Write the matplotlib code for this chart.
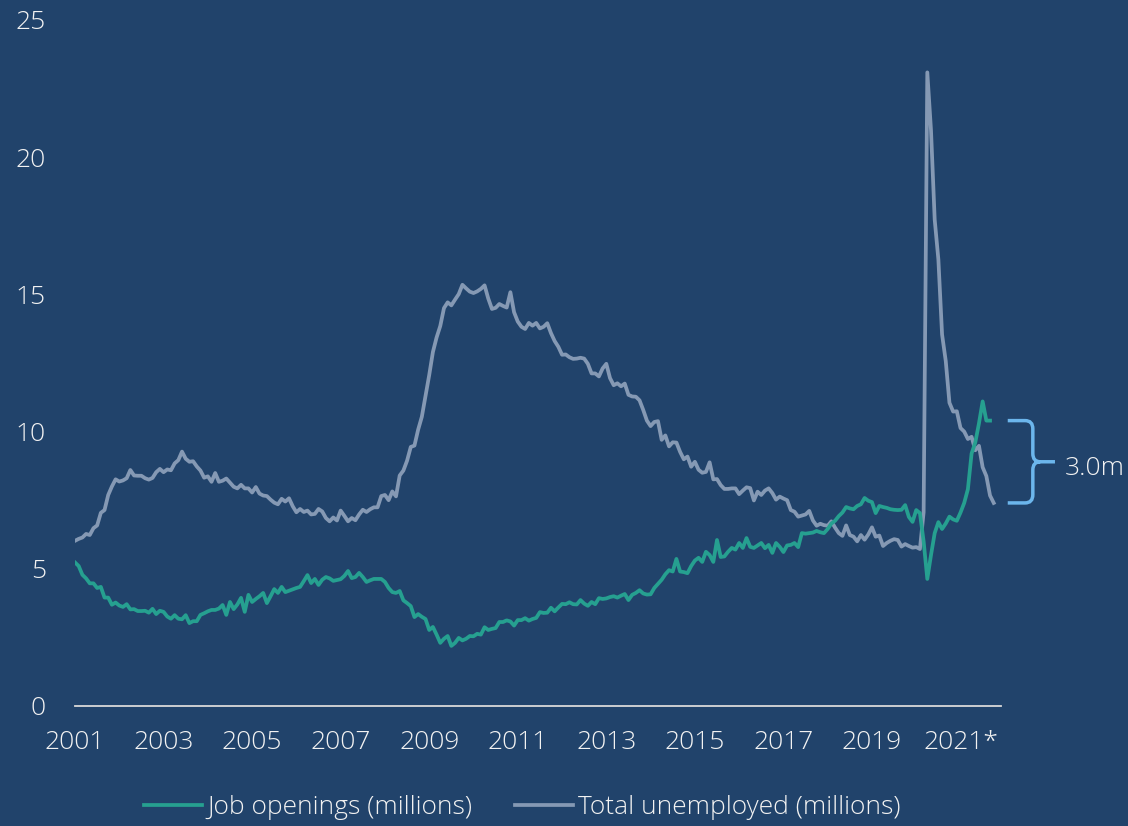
import matplotlib.pyplot as plt
from matplotlib.path import Path
from matplotlib.patches import PathPatch
import numpy as np

# monthly values, Jan 2001 onwards (millions)
job_openings = [
    5.23, 5.10, 4.78, 4.65, 4.47, 4.47, 4.30, 4.34, 3.95, 3.95, 3.69, 3.77,
    3.66, 3.61, 3.71, 3.52, 3.53, 3.46, 3.46, 3.47, 3.40, 3.54, 3.35, 3.47,
    3.43, 3.26, 3.18, 3.31, 3.18, 3.16, 3.31, 3.02, 3.09, 3.09, 3.32, 3.38,
    3.45, 3.50, 3.50, 3.55, 3.68, 3.32, 3.79, 3.53, 3.70, 3.94, 3.43, 4.05,
    3.79, 3.90, 4.00, 4.12, 3.75, 4.00, 4.26, 4.12, 4.34, 4.15, 4.20, 4.25,
    4.30, 4.34, 4.55, 4.77, 4.48, 4.63, 4.41, 4.60, 4.70, 4.65, 4.56, 4.59,
    4.62, 4.74, 4.92, 4.66, 4.70, 4.85, 4.70, 4.52, 4.58, 4.63, 4.63, 4.63,
    4.52, 4.30, 4.15, 4.12, 4.19, 3.85, 3.75, 3.64, 3.24, 3.35, 3.25, 3.17,
    2.77, 2.88, 2.60, 2.30, 2.45, 2.55, 2.19, 2.30, 2.48, 2.39, 2.45, 2.55,
    2.54, 2.63, 2.60, 2.87, 2.77, 2.81, 2.84, 3.06, 3.06, 3.12, 3.08, 2.93,
    3.13, 3.13, 3.20, 3.11, 3.17, 3.21, 3.42, 3.39, 3.40, 3.58, 3.45, 3.59,
    3.72, 3.71, 3.78, 3.71, 3.70, 3.86, 3.73, 3.65, 3.79, 3.71, 3.93, 3.90,
    3.92, 3.97, 4.00, 3.95, 4.02, 4.08, 3.86, 4.05, 4.12, 4.22, 4.10, 4.06,
    4.07, 4.30, 4.45, 4.60, 4.80, 4.95, 4.90, 5.36, 4.90, 4.88, 4.84, 5.10,
    5.30, 5.40, 5.25, 5.62, 5.50, 5.25, 6.05, 5.43, 5.45, 5.62, 5.76, 5.70,
    5.94, 5.76, 6.12, 5.80, 5.76, 5.85, 5.94, 5.75, 5.87, 5.58, 5.94, 5.80,
    5.61, 5.85, 5.87, 5.94, 5.79, 6.30, 6.28, 6.30, 6.32, 6.38, 6.33, 6.30,
    6.45, 6.65, 6.75, 6.92, 7.05, 7.25, 7.20, 7.17, 7.29, 7.35, 7.58, 7.48,
    7.43, 7.03, 7.29, 7.25, 7.22, 7.17, 7.15, 7.14, 7.15, 7.32, 6.89, 6.71,
    7.14, 7.03, 6.00, 4.63, 5.50, 6.30, 6.70, 6.45, 6.65, 6.90, 6.80, 6.75,
    7.05, 7.40, 7.90, 9.20, 9.60, 10.30, 11.10, 10.40, 10.40,
]

unemployed = [
    6.02, 6.09, 6.14, 6.27, 6.23, 6.48, 6.58, 7.04, 7.14, 7.69, 8.00, 8.26,
    8.18, 8.22, 8.30, 8.60, 8.40, 8.39, 8.39, 8.30, 8.25, 8.31, 8.52, 8.64,
    8.52, 8.62, 8.59, 8.84, 8.96, 9.27, 9.01, 8.90, 8.92, 8.73, 8.58, 8.32,
    8.37, 8.17, 8.49, 8.17, 8.21, 8.29, 8.14, 7.99, 7.93, 8.06, 7.93, 7.93,
    7.78, 7.98, 7.74, 7.67, 7.65, 7.52, 7.41, 7.35, 7.55, 7.45, 7.57, 7.28,
    7.06, 7.18, 7.07, 7.12, 6.98, 7.00, 7.18, 7.09, 6.85, 6.73, 6.87, 6.76,
    7.12, 6.93, 6.73, 6.85, 6.77, 6.98, 7.15, 7.07, 7.17, 7.24, 7.24, 7.65,
    7.69, 7.50, 7.82, 7.64, 8.40, 8.58, 8.94, 9.44, 9.49, 10.07, 10.54, 11.29,
    12.06, 12.90, 13.43, 13.85, 14.50, 14.71, 14.60, 14.81, 15.01, 15.35, 15.22, 15.10,
    15.05, 15.11, 15.20, 15.33, 14.85, 14.47, 14.51, 14.65, 14.58, 14.52, 15.08, 14.35,
    14.01, 13.82, 13.74, 13.96, 13.86, 13.96, 13.76, 13.82, 13.95, 13.59, 13.30, 13.09,
    12.80, 12.81, 12.71, 12.65, 12.66, 12.69, 12.66, 12.47, 12.12, 12.12, 12.01, 12.30,
    12.47, 11.95, 11.69, 11.76, 11.65, 11.75, 11.34, 11.28, 11.27, 11.14, 10.79, 10.40,
    10.20, 10.35, 10.38, 9.70, 9.86, 9.46, 9.61, 9.60, 9.26, 8.99, 9.09, 8.72,
    8.90, 8.61, 8.50, 8.53, 8.88, 8.26, 8.27, 8.05, 7.91, 7.91, 7.93, 7.93,
    7.72, 7.85, 7.97, 7.94, 7.49, 7.81, 7.69, 7.85, 7.93, 7.76, 7.52, 7.63,
    7.56, 7.50, 7.14, 7.08, 6.90, 6.94, 6.98, 7.11, 6.76, 6.57, 6.64, 6.59,
    6.57, 6.73, 6.50, 6.30, 6.20, 6.58, 6.23, 6.17, 6.00, 6.23, 6.06, 6.25,
    6.51, 6.17, 6.21, 5.83, 5.94, 6.02, 6.08, 6.05, 5.81, 5.90, 5.83, 5.77,
    5.79, 5.72, 7.06, 23.09, 20.98, 17.73, 16.27, 13.54, 12.57, 11.05, 10.73, 10.74,
    10.13, 10.00, 9.73, 9.81, 9.32, 9.48, 8.70, 8.38, 7.67, 7.40,
]

years = ["2001", "2003", "2005", "2007", "2009", "2011", "2013", "2015",
         "2017", "2019", "2021*"]

bg = "#21436b"
teal = "#26a090"
grey = "#8599b4"
brace_col = "#6cb6ec"
txt = "#f2f2f2"

plt.rcParams['font.family'] = ['Open Sans', 'DejaVu Sans']
plt.rcParams['font.size'] = 19

fig = plt.figure(figsize=(11.28, 8.26), dpi=100, facecolor=bg)
ax = fig.add_axes([0.0665, 0.1453, 0.821, 0.8305], facecolor=bg)

x_jobs = np.arange(len(job_openings))
x_unemp = np.arange(len(unemployed))
ax.plot(x_jobs, job_openings, color=teal, lw=2.7, label="Job openings (millions)",
        solid_joinstyle='round', zorder=3)
ax.plot(x_unemp, unemployed, color=grey, lw=2.7, label="Total unemployed (millions)",
        solid_joinstyle='round', zorder=2)

ax.set_xlim(0, 251)
ax.set_ylim(0, 25)
ax.set_yticks(range(0, 26, 5))
ax.set_xticks(np.arange(len(years)) * 24)
ax.set_xticklabels(years)
ax.tick_params(axis='both', length=0, colors=txt, labelsize=19)
ax.tick_params(axis='y', pad=21)
ax.tick_params(axis='x', pad=17)
for lab in ax.get_xticklabels() + ax.get_yticklabels():
    lab.set_fontweight('light')

for s in ['top', 'right', 'left']:
    ax.spines[s].set_visible(False)
ax.spines['bottom'].set_color('#d9d9d9')
ax.spines['bottom'].set_linewidth(1.3)

# curly bracket showing the gap at the latest reading
top = job_openings[-1]
bot = unemployed[-1]
mid = (top + bot) / 2
x0, x1, x2, x3 = 252.8, 257.5, 259.6, 265.6
r = 0.3
verts = [
    (x0, top), (x1, top), (x2, top), (x2, top - r),
    (x2, mid + r), (x2, mid), (x2 + 2, mid), (x3, mid),
    (x2 + 2, mid), (x2, mid), (x2, mid - r),
    (x2, bot + r), (x2, bot), (x1, bot), (x0, bot),
]
codes = [
    Path.MOVETO, Path.LINETO, Path.CURVE3, Path.CURVE3,
    Path.LINETO, Path.CURVE3, Path.CURVE3, Path.LINETO,
    Path.MOVETO, Path.CURVE3, Path.CURVE3,
    Path.LINETO, Path.CURVE3, Path.CURVE3, Path.LINETO,
]
ax.add_patch(PathPatch(Path(verts, codes), fill=False, edgecolor=brace_col,
                       lw=2.5, clip_on=False, capstyle='butt'))
ax.text(268.3, mid - 0.25, f"{top - bot:.1f}m", color=txt, fontsize=19,
        fontweight='light', va='center', ha='left', clip_on=False)

leg = fig.legend(loc='center', bbox_to_anchor=(0.463, 0.022), ncol=2,
                 frameon=False, handlelength=2.2, handletextpad=0.2,
                 columnspacing=1.6, fontsize=19)
for t in leg.get_texts():
    t.set_color(txt)
    t.set_fontweight('light')

fig.savefig("out.png", dpi=100, facecolor=bg)
